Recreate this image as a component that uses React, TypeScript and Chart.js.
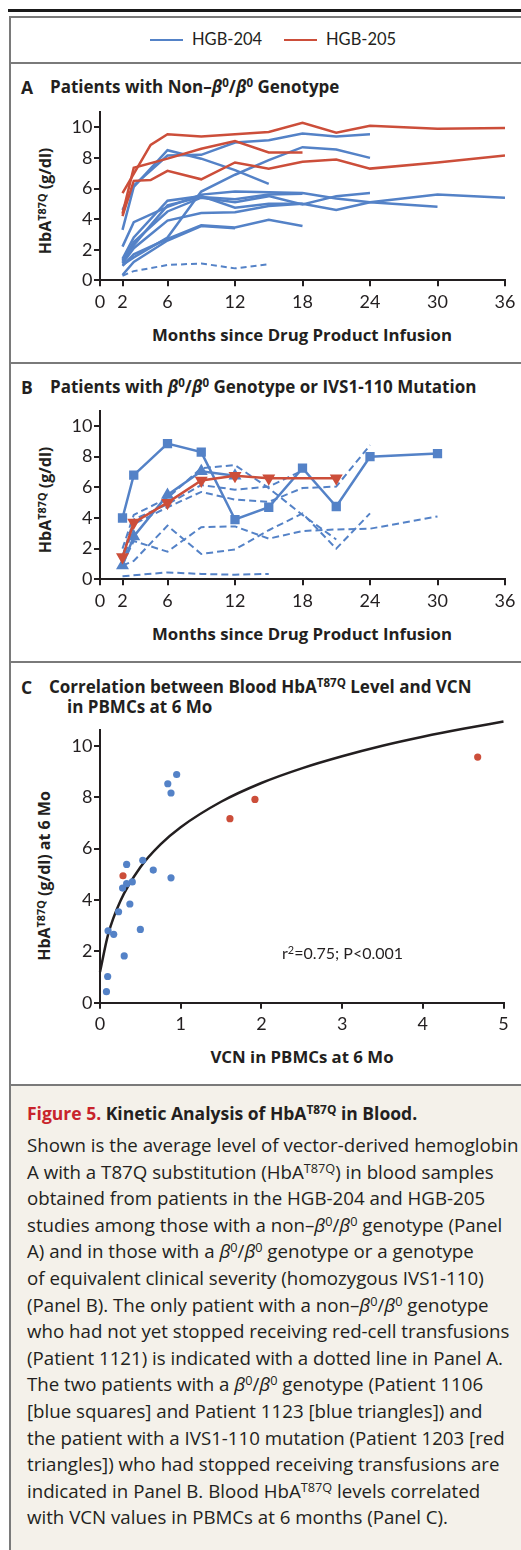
import React, { useEffect, useRef } from 'react';
import { Chart, registerables } from 'chart.js';
Chart.register(...registerables);

const FONT = "Lato, 'Noto Sans', 'DejaVu Sans', sans-serif";
const SANS = "'Open Sans', 'Noto Sans', 'DejaVu Sans', sans-serif";
const BLUE = '#5482c7';
const RED = '#cc4e3a';
const INK = '#231f20';
const RULE = '#7a7a7a';

// ---------- shared tick labels ----------
const monthTicks = [0, 2, 6, 12, 18, 24, 30, 36];
const hbaTicks = [0, 2, 4, 6, 8, 10];
const vcnTicks = [0, 1, 2, 3, 4, 5];

// ---------- Panel A: non-β0/β0 (HGB-205 red, HGB-204 blue) ----------
const aR1Months = [2, 4.5, 6, 9, 12, 15, 18, 21, 24, 30, 36];
const aR1Hba = [5.7, 8.85, 9.55, 9.4, 9.55, 9.7, 10.3, 9.65, 10.1, 9.9, 9.95];
const aR2Months = [2, 3, 4.5, 6, 9, 12, 15, 18, 21, 24, 30, 36];
const aR2Hba = [4.2, 6.5, 6.55, 7.15, 6.6, 7.7, 7.3, 7.75, 7.9, 7.3, 7.7, 8.15];
const aR3Months = [2, 3, 6, 9, 12, 15, 18];
const aR3Hba = [4.35, 7.35, 7.95, 8.6, 9.1, 8.35, 8.35];

const aB1Months = [2, 3, 6, 9, 12, 15, 18, 21, 24];
const aB1Hba = [4.6, 6.2, 8.15, 8.2, 9.0, 9.15, 9.6, 9.4, 9.55];
const aB2Months = [2, 3, 6, 9, 12, 15];
const aB2Hba = [3.3, 6.1, 8.5, 7.95, 7.2, 6.3];
const aB3Months = [2, 3, 6, 9, 12, 15, 18, 21, 24];
const aB3Hba = [1.0, 1.5, 2.8, 5.8, 6.9, 7.85, 8.7, 8.55, 8.0];
const aB4Months = [2, 3, 6, 9, 12, 15, 18, 21, 24, 30, 36];
const aB4Hba = [1.4, 2.8, 5.2, 5.5, 4.75, 5.0, 5.0, 4.6, 5.1, 5.6, 5.4];
const aB5Months = [2, 3, 6, 9, 12, 15, 18, 21, 24, 30];
const aB5Hba = [2.2, 3.8, 4.8, 5.6, 5.8, 5.75, 5.7, 5.35, 5.1, 4.8];
const aB6Months = [2, 3, 6, 9, 12, 15, 18, 21, 24];
const aB6Hba = [1.2, 2.5, 4.5, 5.4, 5.1, 5.5, 4.95, 5.5, 5.7];
const aB7Months = [2, 3, 6, 9, 12, 15, 18];
const aB7Hba = [1.1, 2.1, 3.9, 4.4, 4.45, 4.85, 5.0];
const aB8Months = [2, 3, 6, 9, 12, 15, 18];
const aB8Hba = [0.95, 1.7, 2.7, 3.6, 3.45, 3.95, 3.55];
const aB9Months = [2, 3, 6, 9, 12];
const aB9Hba = [0.35, 1.2, 2.6, 3.55, 3.4];
const aB10Months = [2, 3, 6, 9, 12, 15, 18];
const aB10Hba = [1.3, 2.3, 4.9, 5.45, 5.3, 5.6, 5.65];
const aDotMonths = [2, 3, 6, 9, 12, 15];
const aDotHba = [0.3, 0.6, 1.0, 1.1, 0.78, 1.05];

// ---------- Panel B: β0/β0 or IVS1-110 ----------
const bSqMonths = [2, 3, 6, 9, 12, 15, 18, 21, 24, 30];
const bSqHba = [4.0, 6.8, 8.85, 8.3, 3.9, 4.7, 7.25, 4.75, 8.0, 8.2];
const bTriMonths = [2, 3, 6, 9, 12];
const bTriHba = [0.9, 2.8, 5.5, 7.05, 6.75];
const bRedMonths = [2, 3, 6, 9, 12, 15, 21];
const bRedHba = [1.45, 3.7, 5.0, 6.45, 6.75, 6.6, 6.6];
const bD1Months = [2, 3, 6, 9, 12, 15, 18, 21];
const bD1Hba = [2.0, 4.2, 5.3, 7.25, 7.45, 5.95, 4.2, 2.6];
const bD2Months = [2, 3, 6, 9, 12, 15, 18];
const bD2Hba = [1.5, 3.9, 4.9, 6.15, 5.85, 6.05, 7.1];
const bD3Months = [2, 3, 6, 9, 12, 15, 18, 21, 24];
const bD3Hba = [1.0, 3.6, 4.7, 5.7, 5.2, 5.05, 5.95, 6.05, 8.75];
const bD4Months = [2, 3, 6, 9, 12, 15, 18, 21, 24];
const bD4Hba = [0.9, 1.2, 3.5, 1.65, 1.95, 3.2, 4.3, 2.0, 4.3];
const bD5Months = [2, 3, 6, 9, 12, 15, 18, 21, 24, 30];
const bD5Hba = [1.0, 2.5, 1.8, 3.4, 3.45, 2.65, 3.15, 3.25, 3.3, 4.1];
const bD6Months = [2, 6, 9, 12, 15];
const bD6Hba = [0.2, 0.45, 0.35, 0.3, 0.35];

// ---------- Panel C: HbA vs VCN at 6 mo ----------
const cBlueVcn = [0.08, 0.095, 0.1, 0.17, 0.23, 0.28, 0.3, 0.33, 0.33, 0.37, 0.4, 0.5, 0.53, 0.66, 0.84, 0.88, 0.88, 0.95];
const cBlueHba = [0.43, 1.02, 2.8, 2.66, 3.54, 4.46, 1.82, 4.63, 5.38, 3.84, 4.7, 2.85, 5.54, 5.16, 8.52, 8.16, 4.86, 8.88];
const cRedVcn = [0.285, 1.61, 1.92, 4.68];
const cRedHba = [4.94, 7.16, 7.91, 9.56];
const cFitVcn = [0, 0.1, 0.25, 0.5, 0.75, 1, 1.5, 2, 2.5, 3, 3.5, 4, 4.5, 5];
const cFitHba = [1.2, 2.65, 3.94, 5.27, 6.16, 6.83, 7.82, 8.55, 9.12, 9.59, 10.0, 10.35, 10.66, 10.94];

const pts = (xs: number[], ys: number[]) => xs.map((x, i) => ({ x, y: ys[i] }));

function line(xs: number[], ys: number[], color: string, extra: any = {}) {
  return {
    data: pts(xs, ys),
    borderColor: color,
    backgroundColor: color,
    borderWidth: 2.5,
    pointRadius: 0,
    tension: 0,
    fill: false,
    ...extra,
  };
}

function axes(xMax: number, xTicks: number[], yMax: number, yTicks: number[], yW: number, xH: number) {
  const grid = { display: true, drawOnChartArea: false, drawTicks: true, tickLength: 6, color: INK, lineWidth: 2 };
  const border = { display: true, color: INK, width: 2 };
  const font = { family: FONT, size: 18 };
  return {
    x: {
      type: 'linear',
      min: 0,
      max: xMax,
      grid,
      border,
      ticks: { font, color: INK, padding: 5, maxRotation: 0, autoSkip: false },
      afterBuildTicks: (s: any) => {
        s.ticks = xTicks.map((v) => ({ value: v }));
      },
      afterFit: (s: any) => {
        s.height = xH;
        s.paddingLeft = 0;
        s.paddingRight = 0;
      },
    },
    y: {
      type: 'linear',
      min: 0,
      max: yMax,
      grid,
      border,
      ticks: { font, color: INK, padding: 1.5, autoSkip: false },
      afterBuildTicks: (s: any) => {
        s.ticks = yTicks.map((v) => ({ value: v }));
      },
      afterFit: (s: any) => {
        s.width = yW;
        s.paddingTop = 0;
        s.paddingBottom = 0;
      },
    },
  };
}

function baseOptions(scales: any, padding: any) {
  return {
    responsive: false,
    animation: false,
    events: [],
    layout: { padding },
    plugins: { legend: { display: false }, tooltip: { enabled: false }, title: { display: false } },
    scales,
  };
}

function configA() {
  const dash = { borderDash: [6, 4], borderWidth: 2 };
  return {
    type: 'line',
    data: {
      datasets: [
        line(aR1Months, aR1Hba, RED),
        line(aR2Months, aR2Hba, RED),
        line(aR3Months, aR3Hba, RED),
        line(aB1Months, aB1Hba, BLUE),
        line(aB2Months, aB2Hba, BLUE),
        line(aB3Months, aB3Hba, BLUE),
        line(aB4Months, aB4Hba, BLUE),
        line(aB5Months, aB5Hba, BLUE),
        line(aB6Months, aB6Hba, BLUE),
        line(aB7Months, aB7Hba, BLUE),
        line(aB8Months, aB8Hba, BLUE),
        line(aB9Months, aB9Hba, BLUE),
        line(aB10Months, aB10Hba, BLUE),
        line(aDotMonths, aDotHba, BLUE, dash),
      ],
    },
    options: baseOptions(axes(36, monthTicks, 11, hbaTicks, 80, 34.7), { left: 0, right: 16, top: 12, bottom: 0 }),
  };
}

function configB() {
  const dash = { borderDash: [7, 4], borderWidth: 2 };
  return {
    type: 'line',
    data: {
      datasets: [
        line(bRedMonths, bRedHba, RED, { pointRadius: 5, pointStyle: 'triangle', rotation: 180, borderWidth: 2.5 }),
        line(bSqMonths, bSqHba, BLUE, { pointRadius: 4.8, pointStyle: 'rect' }),
        line(bTriMonths, bTriHba, BLUE, { pointRadius: 5, pointStyle: 'triangle' }),
        line(bD1Months, bD1Hba, BLUE, dash),
        line(bD2Months, bD2Hba, BLUE, dash),
        line(bD3Months, bD3Hba, BLUE, dash),
        line(bD4Months, bD4Hba, BLUE, dash),
        line(bD5Months, bD5Hba, BLUE, dash),
        line(bD6Months, bD6Hba, BLUE, dash),
      ],
    },
    options: baseOptions(axes(36, monthTicks, 11, hbaTicks, 80, 35.7), { left: 0, right: 16, top: 10.7, bottom: 0 }),
  };
}

function configC() {
  return {
    type: 'scatter',
    data: {
      datasets: [
        {
          data: pts(cBlueVcn, cBlueHba),
          backgroundColor: BLUE,
          borderColor: BLUE,
          pointRadius: 3.6,
          borderWidth: 0,
        },
        {
          data: pts(cRedVcn, cRedHba),
          backgroundColor: RED,
          borderColor: RED,
          pointRadius: 3.6,
          borderWidth: 0,
        },
        {
          type: 'line',
          data: pts(cFitVcn, cFitHba),
          borderColor: INK,
          borderWidth: 2.5,
          pointRadius: 0,
          showLine: true,
          cubicInterpolationMode: 'monotone',
          clip: false,
          fill: false,
        },
      ],
    },
    options: baseOptions(axes(5, vcnTicks, 10.6, hbaTicks, 80, 37.3), { left: 0, right: 17.5, top: 10.3, bottom: 0 }),
  };
}

function ChartCanvas({ left, top, width, height, make }: any) {
  const ref = useRef<HTMLCanvasElement | null>(null);
  useEffect(() => {
    if (!ref.current) return;
    const chart = new Chart(ref.current, make() as any);
    return () => chart.destroy();
  }, []);
  return (
    <canvas
      ref={ref}
      width={width}
      height={height}
      style={{ position: 'absolute', left, top, width, height }}
    />
  );
}

const Sup = ({ children }: any) => (
  <span style={{ fontSize: '0.68em', position: 'relative', top: '-0.48em', lineHeight: 0 }}>{children}</span>
);
const Beta0 = () => (
  <>
    <i>β</i>
    <Sup>0</Sup>
  </>
);
const HbA = () => (
  <>
    HbA<Sup>T87Q</Sup>
  </>
);

function T({ x, y, size = 17, bold = false, color = INK, children, center = false, family = SANS }: any) {
  return (
    <div
      style={{
        position: 'absolute',
        left: x,
        top: y,
        transform: center ? 'translate(-50%, -50%)' : 'translateY(-50%)',
        fontFamily: family,
        fontSize: size,
        fontWeight: bold ? 700 : 400,
        color,
        whiteSpace: 'nowrap',
        lineHeight: 1.2,
      }}
    >
      {children}
    </div>
  );
}

function VT({ x, y, children }: any) {
  return (
    <div
      style={{
        position: 'absolute',
        left: x,
        top: y,
        transform: 'translate(-50%, -50%) rotate(-90deg)',
        fontFamily: SANS,
        fontSize: 16,
        fontWeight: 700,
        color: INK,
        whiteSpace: 'nowrap',
        lineHeight: 1.2,
      }}
    >
      {children}
    </div>
  );
}

const HLine = ({ y, color = RULE, h = 2, x = 9 }: any) => (
  <div style={{ position: 'absolute', left: x, top: y - h / 2, width: 521 - x, height: h, background: color }} />
);

const captionLines: any[] = [
  <>Shown is the average level of vector-derived hemoglobin</>,
  <>A with a T87Q substitution (<HbA />) in blood samples</>,
  <>obtained from patients in the HGB-204 and HGB-205</>,
  <>studies among those with a non–<Beta0 />/<Beta0 /> genotype (Panel</>,
  <>A) and in those with a <Beta0 />/<Beta0 /> genotype or a genotype</>,
  <>of equivalent clinical severity (homozygous IVS1-110)</>,
  <>(Panel B). The only patient with a non–<Beta0 />/<Beta0 /> genotype</>,
  <>who had not yet stopped receiving red-cell transfusions</>,
  <>(Patient 1121) is indicated with a dotted line in Panel A.</>,
  <>The two patients with a <Beta0 />/<Beta0 /> genotype (Patient 1106</>,
  <>[blue squares] and Patient 1123 [blue triangles]) and</>,
  <>the patient with a IVS1-110 mutation (Patient 1203 [red</>,
  <>triangles]) who had stopped receiving transfusions are</>,
  <>indicated in Panel B. Blood <HbA /> levels correlated</>,
  <>with VCN values in PBMCs at 6 months (Panel C).</>,
];

export default function App() {
  return (
    <div
      style={{
        position: 'absolute',
        left: 0,
        top: 0,
        width: 521,
        height: 1550,
        overflow: 'hidden',
        background: '#ffffff',
        fontFamily: SANS,
      }}
    >
      {/* caption background */}
      <div style={{ position: 'absolute', left: 9, top: 1085, width: 512, height: 465, background: '#f4f1ea' }} />
      {/* top black rule */}
      <div style={{ position: 'absolute', left: 8, top: 9, width: 513, height: 2.5, background: '#1a1a1a' }} />
      {/* box frame */}
      <div style={{ position: 'absolute', left: 9, top: 16, width: 2, height: 1534, background: RULE }} />
      <HLine y={17} />
      <HLine y={63} />
      <HLine y={363} />
      <HLine y={662} />
      <HLine y={1085} />

      {/* legend */}
      <div style={{ position: 'absolute', left: 150, top: 38.7, width: 33, height: 2.7, background: BLUE }} />
      <T x={192} y={40} family={FONT} size={16.5}>HGB-204</T>
      <div style={{ position: 'absolute', left: 284, top: 38.7, width: 33, height: 2.7, background: RED }} />
      <T x={326} y={40} family={FONT} size={16.5}>HGB-205</T>

      {/* Panel A */}
      <T x={21} y={87} bold size={17.5}>A</T>
      <T x={50} y={87} bold>
        Patients with Non–<Beta0 />/<Beta0 /> Genotype
      </T>
      <VT x={46} y={201}>
        <HbA /> (g/dl)
      </VT>
      <ChartCanvas left={20} top={100} width={501} height={215} make={configA} />
      <T x={302} y={335} bold center size={16.8}>
        Months since Drug Product Infusion
      </T>

      {/* Panel B */}
      <T x={21} y={387} bold size={17.5}>B</T>
      <T x={50} y={387} bold>
        Patients with <Beta0 />/<Beta0 /> Genotype or IVS1-110 Mutation
      </T>
      <VT x={46} y={500}>
        <HbA /> (g/dl)
      </VT>
      <ChartCanvas left={20} top={400} width={501} height={215} make={configB} />
      <T x={302} y={634} bold center size={16.8}>
        Months since Drug Product Infusion
      </T>

      {/* Panel C */}
      <T x={21} y={687} bold size={17.5}>C</T>
      <T x={49} y={687} bold>
        Correlation between Blood <HbA /> Level and VCN
      </T>
      <T x={67} y={707} bold>
        in PBMCs at 6 Mo
      </T>
      <VT x={45} y={876}>
        <HbA /> (g/dl) at 6 Mo
      </VT>
      <ChartCanvas left={20} top={720} width={501} height={320} make={configC} />
      <T x={282} y={953} size={16} family={FONT}>
        r<Sup>2</Sup>=0.75; P&lt;0.001
      </T>
      <T x={302} y={1057} bold center size={16.8}>
        VCN in PBMCs at 6 Mo
      </T>

      {/* Caption */}
      <T x={27} y={1113} bold size={17.5}>
        <span style={{ color: '#c8232c' }}>Figure 5.</span> Kinetic Analysis of <HbA /> in Blood.
      </T>
      {captionLines.map((ln, i) => (
        <T key={i} x={27} y={1145 + i * 26.6} size={18.7}>
          {ln}
        </T>
      ))}
    </div>
  );
}
